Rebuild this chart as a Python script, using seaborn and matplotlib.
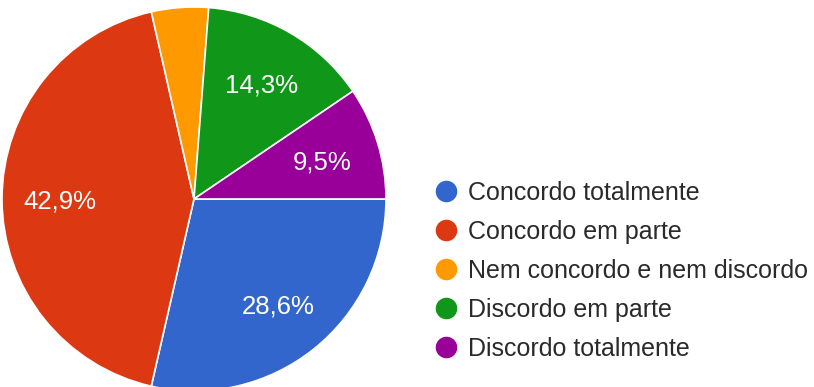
import matplotlib
matplotlib.use("Agg")
import matplotlib.pyplot as plt
from matplotlib.lines import Line2D
import numpy as np
import seaborn as sns

# Survey answers and their share of responses (%)
categories = [
    "Concordo totalmente",
    "Concordo em parte",
    "Nem concordo e nem discordo",
    "Discordo em parte",
    "Discordo totalmente",
]
shares = [28.6, 42.9, 4.8, 14.3, 9.5]
pct_labels = ["28,6%", "42,9%", "", "14,3%", "9,5%"]
colors = sns.color_palette(["#3366cc", "#dc3912", "#ff9900", "#109618", "#990099"])

sns.set_theme(style="white")
plt.rcParams["font.family"] = ["Liberation Sans", "DejaVu Sans"]

W, H, DPI = 814, 387, 100
fig = plt.figure(figsize=(W / DPI, H / DPI), dpi=DPI)
fig.patch.set_facecolor("white")

# square axes for the pie: centre (194, 199) px, radius 192 px
cx, cy, r = 194, 199, 192
ax = fig.add_axes([(cx - r) / W, (H - cy - r) / H, 2 * r / W, 2 * r / H])

wedges, _ = ax.pie(
    shares,
    colors=colors,
    startangle=0,
    counterclock=False,
    radius=1.0,
    wedgeprops=dict(edgecolor="white", linewidth=1.2),
)

# percentage labels inside the wedges
for w, lab in zip(wedges, pct_labels):
    mid = np.deg2rad((w.theta1 + w.theta2) / 2)
    if lab:
        ax.text(0.70 * np.cos(mid), 0.70 * np.sin(mid), lab,
                ha="center", va="center_baseline", color="white", fontsize=18.5)

ax.set_xlim(-1, 1)
ax.set_ylim(-1, 1)
ax.set_aspect("equal")
ax.axis("off")

handles = [
    Line2D([], [], marker="o", linestyle="", markersize=14.5,
           markerfacecolor=c, markeredgecolor=c)
    for c in colors
]
fig.legend(
    handles, categories,
    loc="upper left",
    bbox_to_anchor=(436 / W, (H - 181) / H),
    bbox_transform=fig.transFigure,
    frameon=False,
    fontsize=18,
    labelcolor="#2a2a2a",
    handlelength=0.8,
    handletextpad=0.5,
    labelspacing=0.60,
    borderpad=0,
    borderaxespad=0,
)

fig.savefig("out.png", dpi=DPI, facecolor="white")
